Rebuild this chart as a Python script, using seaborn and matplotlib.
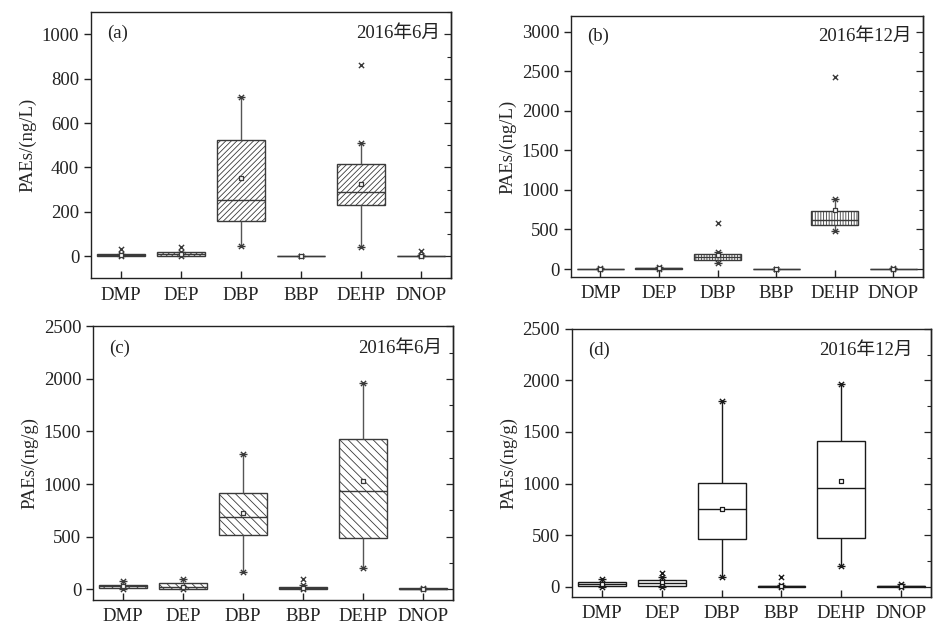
import numpy as np
import pandas as pd
import matplotlib
matplotlib.use("Agg")
import matplotlib.pyplot as plt
import seaborn as sns
from matplotlib.ticker import MultipleLocator

# ---------------- data ----------------
CATEGORIES = ["DMP", "DEP", "DBP", "BBP", "DEHP", "DNOP"]

# (a) water, June 2016, ng/L
A_LO   = [0, 0, 46, 0, 41, 0]
A_Q1   = [1, 2, 159, 0, 230, 0]
A_MED  = [4, 8, 255, 0, 291, 1]
A_Q3   = [8, 16, 522, 1, 416, 2]
A_HI   = [10, 20, 719, 2, 512, 3]
A_MEAN = [5, 10, 354, 1, 327, 2]
A_OUT  = [30, 39, np.nan, np.nan, 860, 24]

# (b) water, December 2016, ng/L
B_LO   = [0, 2, 76, 0, 483, 0]
B_Q1   = [1, 5, 110, 0, 559, 0]
B_MED  = [3, 10, 148, 1, 626, 2]
B_Q3   = [6, 18, 190, 3, 732, 5]
B_HI   = [10, 30, 211, 5, 880, 10]
B_MEAN = [4, 12, 178, 2, 750, 3]
B_OUT  = [np.nan, np.nan, 584, np.nan, 2422, np.nan]

# (c) sediment, June 2016, ng/g
C_LO   = [0, 0, 165, 0, 203, 0]
C_Q1   = [16, 3, 519, 0, 491, 0]
C_MED  = [30, 20, 687, 12, 937, 5]
C_Q3   = [44, 60, 915, 28, 1424, 10]
C_HI   = [79, 101, 1282, 40, 1965, 16]
C_MEAN = [32, 22, 728, 13, 1032, 8]
C_OUT  = [np.nan, np.nan, np.nan, 95, np.nan, np.nan]

# (d) sediment, December 2016, ng/g
D_LO   = [0, 0, 94, 0, 200, 0]
D_Q1   = [10, 10, 458, 0, 468, 0]
D_MED  = [25, 35, 752, 2, 952, 5]
D_Q3   = [42, 61, 1003, 8, 1416, 10]
D_HI   = [71, 97, 1797, 12, 1961, 22]
D_MEAN = [26, 45, 755, 6, 1026, 10]
D_OUT  = [np.nan, 135, np.nan, 90, np.nan, np.nan]

PANEL_LABELS = ["(a)", "(b)", "(c)", "(d)"]
PANEL_DATES = ["2016年6月", "2016年12月", "2016年6月", "2016年12月"]
Y_LABELS = ["PAEs/(ng/L)", "PAEs/(ng/L)", "PAEs/(ng/g)", "PAEs/(ng/g)"]

# ---------------- style ----------------
sns.set_style("ticks")
plt.rcParams["font.family"] = ["Liberation Serif", "Noto Sans CJK SC"]
plt.rcParams["hatch.linewidth"] = 0.6
plt.rcParams["axes.unicode_minus"] = False

FS = 13.5
fig = plt.figure(figsize=(9.33, 6.28), dpi=100)

panels = [
    dict(stats=(A_LO, A_Q1, A_MED, A_Q3, A_HI), mean=A_MEAN, out=A_OUT,
         rect=[0.0975, 0.557, 0.386, 0.4236], ylim=(-100, 1100), major=200, minor=100,
         hatch="//////", ec="#3a3a3a", wc="#555555", date_x=0.97),
    dict(stats=(B_LO, B_Q1, B_MED, B_Q3, B_HI), mean=B_MEAN, out=B_OUT,
         rect=[0.612, 0.559, 0.377, 0.4156], ylim=(-100, 3200), major=500, minor=250,
         hatch="||||||", ec="#3a3a3a", wc="#555555", date_x=0.97),
    dict(stats=(C_LO, C_Q1, C_MED, C_Q3, C_HI), mean=C_MEAN, out=C_OUT,
         rect=[0.0997, 0.0446, 0.386, 0.436], ylim=(-100, 2500), major=500, minor=250,
         hatch="\\\\\\\\", ec="#3a3a3a", wc="#555555", date_x=0.97),
    dict(stats=(D_LO, D_Q1, D_MED, D_Q3, D_HI), mean=D_MEAN, out=D_OUT,
         rect=[0.613, 0.0494, 0.385, 0.427], ylim=(-100, 2500), major=500, minor=250,
         hatch=None, ec="#1a1a1a", wc="#1a1a1a", date_x=0.95),
]

for i, p in enumerate(panels):
    ax = fig.add_axes(p["rect"])
    lo, q1, med, q3, hi = p["stats"]
    rows = []
    for k, cat in enumerate(CATEGORIES):
        for v in (lo[k], q1[k], med[k], q3[k], hi[k]):
            rows.append({"cat": cat, "val": v})
    df = pd.DataFrame(rows)

    sns.boxplot(data=df, x="cat", y="val", order=CATEGORIES, whis=(0, 100),
                width=0.8, color="white", linecolor=p["ec"], linewidth=1.0,
                showcaps=False, fliersize=0, whiskerprops={"color": p["wc"]}, ax=ax)
    for patch in ax.patches:
        patch.set_facecolor("white")
        patch.set_edgecolor(p["ec"])
        if p["hatch"]:
            patch.set_hatch(p["hatch"])

    xs = np.arange(len(CATEGORIES))
    # whisker end markers (cross + dash)
    for arr in (lo, hi):
        ax.scatter(xs, arr, marker="x", s=14, linewidths=1.0, color=p["ec"], zorder=5)
        ax.scatter(xs, arr, marker="_", s=30, linewidths=1.0, color=p["ec"], zorder=5)
    # extreme values
    ax.scatter(xs, p["out"], marker="x", s=14, linewidths=1.0, color=p["ec"], zorder=5)
    # mean
    ax.scatter(xs, p["mean"], marker="s", s=10, facecolor="white",
               edgecolor=p["ec"], linewidths=0.9, zorder=6)

    ax.set_xlim(-0.5, len(CATEGORIES) - 0.5)
    ax.set_ylim(*p["ylim"])
    ax.yaxis.set_major_locator(MultipleLocator(p["major"]))
    ax.set_xlabel("")
    ax.set_ylabel(Y_LABELS[i], fontsize=FS, labelpad=4)
    for s in ax.spines.values():
        s.set_visible(True)
        s.set_linewidth(1.0)
        s.set_color("#222222")
    ax.tick_params(axis="y", which="major", direction="out", length=5, width=1.0,
                   labelsize=FS, left=True, right=False, colors="#222222")
    ax.tick_params(axis="x", which="major", direction="in", length=5, width=1.0,
                   labelsize=FS, bottom=True, top=False, colors="#222222", pad=6)

    sec = ax.secondary_yaxis("right")
    sec.yaxis.set_major_locator(MultipleLocator(p["major"]))
    sec.yaxis.set_minor_locator(MultipleLocator(p["minor"]))
    sec.tick_params(which="major", direction="in", length=5, width=0.9, labelright=False)
    sec.tick_params(which="minor", direction="in", length=3, width=0.8, labelright=False)
    sec.spines["right"].set_linewidth(1.0)

    ax.text(0.045, 0.92, PANEL_LABELS[i], transform=ax.transAxes, fontsize=FS,
            ha="left", va="center", color="#222222")
    ax.text(p["date_x"], 0.92, PANEL_DATES[i], transform=ax.transAxes, fontsize=FS,
            ha="right", va="center", color="#222222")

fig.savefig("out.png", dpi=100)
